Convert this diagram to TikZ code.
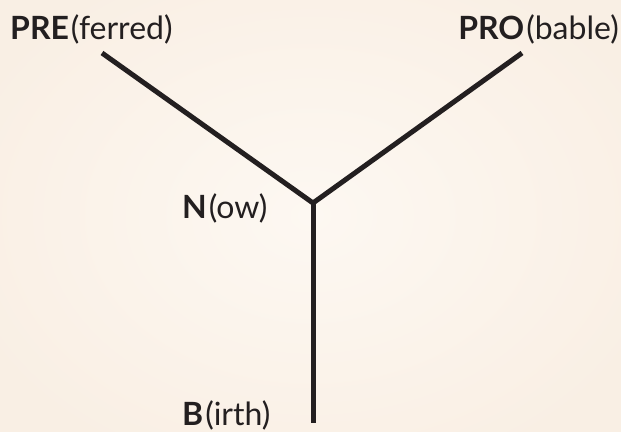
\documentclass[tikz,border=0pt]{standalone}
\usepackage{fontspec}
\setmainfont{Lato}
\definecolor{bginner}{HTML}{FDF8F2}
\definecolor{bgouter}{HTML}{F9EFE4}
\definecolor{ink}{HTML}{231F20}
\newcommand{\bparen}[2]{\textbf{#1}\kern2pt(#2)}
\begin{document}
\begin{tikzpicture}[x=1pt,y=-1pt,
  branch/.style={draw=ink,line width=5pt},
  lbl/.style={anchor=base west,inner sep=0pt,text=ink,font=\fontsize{32}{36}\selectfont}]
\useasboundingbox (0,0) rectangle (621,431);
\shade[inner color=bginner,outer color=bgouter] (-60,-60) rectangle (681,491);
\coordinate (pre) at (102,53);
\coordinate (pro) at (522,53);
\coordinate (now) at (313,203);
\coordinate (birth) at (313,423);
\draw[branch] (pre) -- (now);
\draw[branch] (pro) -- (now);
\draw[branch] (now) -- (birth);
\node[lbl] (tpre) at (10,39) {\bparen{PRE}{ferred}};
\node[lbl,anchor=base east] (tpro) at (619,39) {\bparen{PRO}{bable}};
\node[lbl] (tnow) at (182,218) {\bparen{N}{ow}};
\node[lbl] (tbirth) at (182,425) {\bparen{B}{irth}};
\end{tikzpicture}
\end{document}
